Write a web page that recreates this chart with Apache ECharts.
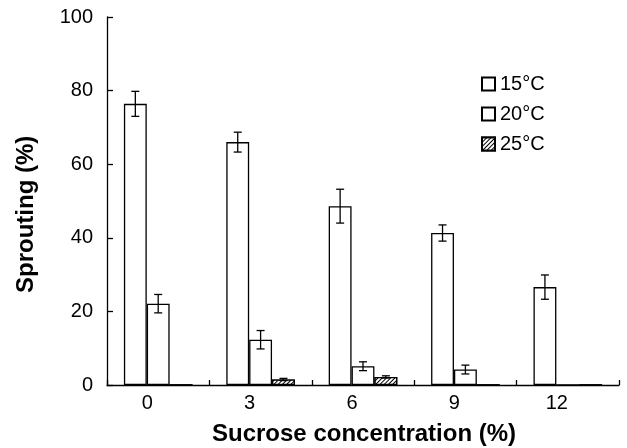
<!DOCTYPE html>
<html>
<head>
<meta charset="utf-8">
<script src="https://cdn.jsdelivr.net/npm/echarts@6/dist/echarts.min.js"></script>
<style>
  html, body { margin: 0; padding: 0; background: #fff; }
  #chart { width: 627px; height: 448px; }
</style>
</head>
<body>
<div id="chart"></div>
<script>
// sucrose concentration (%)
var categories = ['0', '3', '6', '9', '12']
var seriesNames = ['15°C', '20°C', '25°C']
// sprouting (%) means and error bar half-widths
var sprout15 = [76.4, 66.0, 48.6, 41.3, 26.6]
var err15 = [3.4, 2.7, 4.6, 2.2, 3.3]
var sprout20 = [22.1, 12.3, 5.1, 4.2, 0]
var err20 = [2.5, 2.5, 1.2, 1.2, 0]
var sprout25 = [0, 1.5, 2.2, 0, 0]
var err25 = [0, 0.3, 0.3, 0, 0]
var yTicks = [0, 20, 40, 60, 80, 100]

var FONT = '"Liberation Sans", Arial, sans-serif'
var CAT_GAP = 0.33

var chart = echarts.init(document.getElementById('chart'))

function errorSeries(idx, means, errs) {
  var data = means.map(function (m, i) { return [i, m, errs[i]] })
  return {
    type: 'custom',
    silent: true,
    z: 10,
    data: data,
    renderItem: function (params, api) {
      var err = api.value(2)
      if (!err) return null
      var band = api.size([1, 0])[0]
      var barW = band * (1 - CAT_GAP) / 3
      var cx = api.coord([api.value(0), 0])[0] + (idx - 1) * barW
      var hi = api.coord([api.value(0), api.value(1) + err])[1]
      var lo = api.coord([api.value(0), api.value(1) - err])[1]
      var cap = 4
      var style = { stroke: '#000', lineWidth: 1.3 }
      return {
        type: 'group',
        children: [
          { type: 'line', shape: { x1: cx, y1: hi, x2: cx, y2: lo }, style: style },
          { type: 'line', shape: { x1: cx - cap, y1: hi, x2: cx + cap, y2: hi }, style: style },
          { type: 'line', shape: { x1: cx - cap, y1: lo, x2: cx + cap, y2: lo }, style: style }
        ]
      }
    }
  }
}

function barSeries(name, values, hatched) {
  var itemStyle = {
    color: '#fff',
    borderColor: '#000',
    borderWidth: 1.3
  }
  if (hatched) {
    itemStyle.decal = {
      symbol: 'rect',
      color: '#000',
      backgroundColor: '#fff',
      dashArrayX: [1, 0],
      dashArrayY: [1, 2],
      rotation: -Math.PI / 4,
      symbolSize: 1
    }
  }
  return {
    name: name,
    type: 'bar',
    data: values,
    barGap: '0%',
    barCategoryGap: (CAT_GAP * 100) + '%',
    itemStyle: itemStyle
  }
}

chart.setOption({
  animation: false,
  backgroundColor: '#fff',
  textStyle: { fontFamily: FONT },
  grid: { left: 107, right: 8, top: 17, bottom: 63 },
  legend: {
    data: seriesNames,
    orient: 'vertical',
    left: 476,
    top: 69,
    itemGap: 10,
    itemWidth: 13,
    itemHeight: 13,
    icon: 'rect',
    textStyle: { fontSize: 20, color: '#000', fontFamily: FONT }
  },
  xAxis: {
    type: 'category',
    data: categories,
    axisLine: { lineStyle: { color: '#000', width: 1.3 } },
    axisTick: { show: true, inside: true, length: 5, lineStyle: { color: '#000', width: 1.3 } },
    axisLabel: {
      color: '#000', fontSize: 20, fontFamily: FONT, margin: 8,
      padding: [0, 22, 0, 0]
    }
  },
  yAxis: {
    type: 'value',
    min: 0,
    max: 100,
    interval: 20,
    axisLine: { show: true, lineStyle: { color: '#000', width: 1.3 } },
    axisTick: { show: true, inside: true, length: 6, lineStyle: { color: '#000', width: 1.3 } },
    axisLabel: {
      color: '#000', fontSize: 20, fontFamily: FONT, margin: 14,
      formatter: function (v) { return yTicks.indexOf(v) >= 0 ? String(v) : '' }
    },
    splitLine: { show: false }
  },
  graphic: [
    {
      type: 'text',
      left: 212,
      top: 422,
      style: {
        text: 'Sucrose concentration (%)',
        font: 'bold 24px ' + FONT,
        fill: '#000'
      }
    },
    {
      type: 'text',
      x: 14,
      y: 293,
      rotation: Math.PI / 2,
      style: {
        text: 'Sprouting (%)',
        font: 'bold 24px ' + FONT,
        fill: '#000'
      }
    }
  ],
  series: [
    barSeries(seriesNames[0], sprout15, false),
    barSeries(seriesNames[1], sprout20, false),
    barSeries(seriesNames[2], sprout25, true),
    errorSeries(0, sprout15, err15),
    errorSeries(1, sprout20, err20),
    errorSeries(2, sprout25, err25)
  ]
})
</script>
</body>
</html>
